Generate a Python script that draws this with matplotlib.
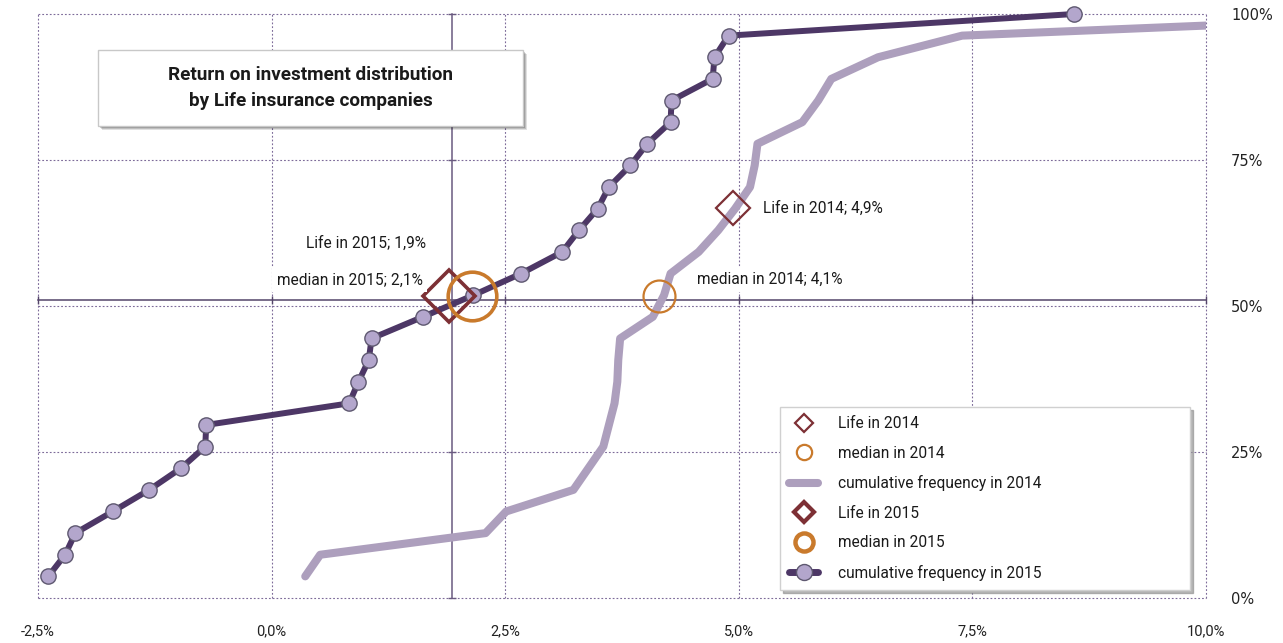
import matplotlib
matplotlib.use("Agg")
import matplotlib.pyplot as plt
from matplotlib.lines import Line2D
from matplotlib.patches import Rectangle

# cumulative frequency curves (return %, share of companies)
cum_2015_x = [-2.39, -2.21, -2.10, -1.70, -1.31, -0.97, -0.71, -0.70, 0.83, 0.93,
              1.04, 1.07, 1.62, 2.16, 2.67, 3.11, 3.29, 3.49, 3.61, 3.84,
              4.02, 4.27, 4.28, 4.72, 4.74, 4.89, 8.59]
cum_2014_x = [0.36, 0.52, 2.29, 2.51, 3.23, 3.39, 3.55, 3.61, 3.67, 3.70,
              3.71, 3.73, 4.08, 4.20, 4.27, 4.57, 4.78, 4.96, 5.12, 5.17,
              5.20, 5.68, 5.85, 5.99, 6.49, 7.39, 13.0]
cum_2015_y = [(i + 1) / 27 for i in range(27)]
cum_2014_y = [(i + 1) / 27 for i in range(27)]

life_2015 = (1.90, 0.517)
median_2015 = (2.15, 0.517)
life_2014 = (4.94, 0.667)
median_2014 = (4.15, 0.517)

x_ticks = [-2.5, 0.0, 2.5, 5.0, 7.5, 10.0]
x_labels = ["-2,5%", "0,0%", "2,5%", "5,0%", "7,5%", "10,0%"]
y_ticks = [0, 0.25, 0.5, 0.75, 1.0]
y_labels = ["0%", "25%", "50%", "75%", "100%"]

DARK = "#4d3766"
LIGHT = "#ad9fbd"
MARK = "#b3a6cc"
RED = "#7d3035"
ORANGE = "#c97a2c"
GRID = "#7d6b99"

plt.rcParams["font.family"] = ["Roboto", "DejaVu Sans"]

W, H = 1283, 643
fig = plt.figure(figsize=(W / 100, H / 100), dpi=100)
ax = fig.add_axes([38 / W, 1 - 598 / H, (1206 - 38) / W, (598 - 14) / H])
ax.set_xlim(-2.5, 10)
ax.set_ylim(0, 1)
for s in ax.spines.values():
    s.set_visible(False)

ax.set_xticks(x_ticks, x_labels)
ax.set_yticks(y_ticks, y_labels)
ax.yaxis.tick_right()
ax.tick_params(axis="x", length=0, pad=19, labelsize=10.5, colors="#222222")
ax.tick_params(axis="y", length=0, pad=18, labelsize=10.5, colors="#222222")
for lab in ax.get_yticklabels():
    lab.set_fontfamily(["DejaVu Sans"])
    lab.set_horizontalalignment("left")
ax.grid(True, color=GRID, linestyle=(0, (1.6, 1.8)), linewidth=0.8)
for gl in ax.get_xgridlines() + ax.get_ygridlines():
    gl.set_clip_on(False)

# crossing axis lines
ax.plot(x_ticks, [0.51] * len(x_ticks), color="#54456a", lw=1.1, marker="|",
        ms=6, mew=1.0, zorder=2, clip_on=False)
ax.plot([1.93] * len(y_ticks), y_ticks, color="#6a5a80", lw=1.1, marker="_",
        ms=6, mew=1.0, zorder=2, clip_on=False)

ax.plot(cum_2014_x, cum_2014_y, color=LIGHT, lw=5.8, solid_capstyle="round",
        solid_joinstyle="round", zorder=3)
ax.plot(cum_2015_x, cum_2015_y, color=DARK, lw=4.3, solid_joinstyle="round",
        marker="o", ms=11, mfc=MARK, mec="#5e5870", mew=1.0, zorder=4,
        clip_on=False)

ax.plot(*life_2014, marker="D", ms=17, mfc="none", mec=RED, mew=1.6, zorder=5)
ax.plot(*median_2014, marker="o", ms=23, mfc="none", mec=ORANGE, mew=1.6, zorder=5)
ax.plot(*life_2015, marker="D", ms=26, mfc="none", mec=RED, mew=2.6, zorder=5)
ax.plot(*median_2015, marker="o", ms=35, mfc="none", mec=ORANGE, mew=2.6, zorder=5)

lab_kw = dict(textcoords="offset points", fontsize=11.2, color="#1a1a1a",
              va="center", zorder=6,
              bbox=dict(boxstyle="square,pad=0.3", fc="white", ec="none"))
ax.annotate("Life in 2015; 1,9%", life_2015, xytext=(-17, 38), ha="right", **lab_kw)
ax.annotate("median in 2015; 2,1%", median_2015, xytext=(-36, 11.5), ha="right", **lab_kw)
ax.annotate("Life in 2014; 4,9%", life_2014, xytext=(21.5, 0), ha="left", **lab_kw)
ax.annotate("median in 2014; 4,1%", median_2014, xytext=(27, 12), ha="left", **lab_kw)

# title box with a soft shadow
x0, y0, bw, bh = 98, 50, 425, 76
for k, a in [(4, 0.12), (3, 0.15), (2, 0.2)]:
    fig.patches.append(Rectangle(((x0 + k) / W, 1 - (y0 + bh + k) / H), bw / W, bh / H,
                                 transform=fig.transFigure, fc="#000000", ec="none",
                                 alpha=a, zorder=5))
fig.patches.append(Rectangle((x0 / W, 1 - (y0 + bh) / H), bw / W, bh / H,
                             transform=fig.transFigure, fc="white", ec="#c8c8c8",
                             lw=1, zorder=6))
fig.text((x0 + bw / 2) / W, 1 - 88 / H,
         "Return on investment distribution\nby Life insurance companies",
         ha="center", va="center", fontsize=13.6, fontweight="bold",
         linespacing=1.5, color="#1a1a1a", zorder=7)

handles = [
    Line2D([], [], ls="none", marker="D", ms=9, mfc="white", mec=RED, mew=1.6),
    Line2D([], [], ls="none", marker="o", ms=11, mfc="white", mec=ORANGE, mew=1.6),
    Line2D([], [], color=LIGHT, lw=5.8, solid_capstyle="round"),
    Line2D([], [], ls="none", marker="D", ms=10, mfc="white", mec=RED, mew=3),
    Line2D([], [], ls="none", marker="o", ms=13, mfc="white", mec=ORANGE, mew=3.2),
    Line2D([], [], color=DARK, lw=5, marker="o", ms=11.5, mfc=MARK, mec="#5e5870",
           solid_capstyle="round"),
]
labels = ["Life in 2014", "median in 2014", "cumulative frequency in 2014",
          "Life in 2015", "median in 2015", "cumulative frequency in 2015"]
leg = ax.legend(handles, labels, loc="lower left",
                bbox_to_anchor=(780 / W, 1 - 590 / H, 410 / W, 182 / H),
                bbox_transform=fig.transFigure, mode="expand", borderaxespad=0,
                fontsize=11.2, labelspacing=0.93, handlelength=1.85,
                handletextpad=1.3, borderpad=0.6, fancybox=False,
                edgecolor="#d0d0d0", framealpha=1,
                shadow={"color": "#888888", "alpha": 0.6})
leg.set_zorder(8)
for t in leg.get_texts():
    t.set_color("#1a1a1a")

fig.savefig("out.png", dpi=100)
